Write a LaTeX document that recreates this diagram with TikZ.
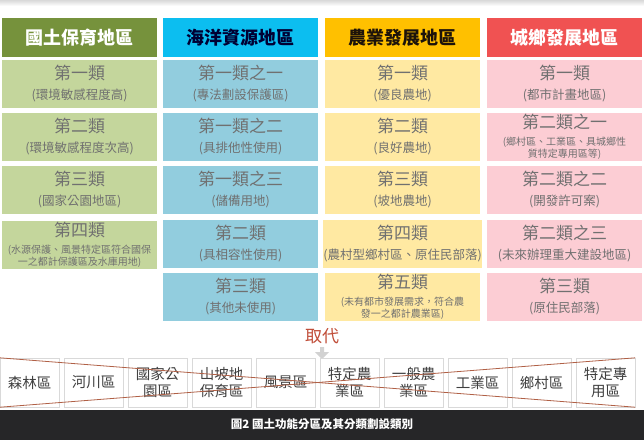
\documentclass[tikz,border=0pt]{standalone}
\usepackage{fontspec}
\setmainfont{Noto Sans CJK TC}
\usetikzlibrary{shapes.arrows}

\definecolor{headGreen}{RGB}{118,146,60}
\definecolor{cellGreen}{RGB}{196,214,156}
\definecolor{headBlue}{RGB}{12,190,240}
\definecolor{cellBlue}{RGB}{146,205,222}
\definecolor{headYellow}{RGB}{255,192,0}
\definecolor{cellYellow}{RGB}{255,233,162}
\definecolor{headRed}{RGB}{240,82,82}
\definecolor{cellRed}{RGB}{252,205,212}
\definecolor{cellText}{RGB}{112,112,112}
\definecolor{crossRed}{RGB}{176,96,70}
\definecolor{barDark}{RGB}{38,38,40}

\newcommand{\kind}[2]{{\fontsize{17}{20}\selectfont #1}\\{\fontsize{12.5}{20}\selectfont #2}}
\newcommand{\kindtwo}[3]{{\fontsize{17}{20}\selectfont #1}\\[-3pt]{\fontsize{10}{20}\selectfont #2}\\[-8pt]{\fontsize{10}{20}\selectfont #3}}

\begin{document}
\begin{tikzpicture}[x=1pt,y=-1pt,
    head/.style={minimum width=155,minimum height=39,inner sep=0,
      font=\bfseries\fontsize{18}{20}\selectfont},
    cell/.style={minimum width=155,minimum height=48,inner sep=0,
      align=center,text=cellText,font=\fontsize{12.5}{20}\selectfont},
    old zone/.style={draw=gray!30,fill=white,minimum width=59,minimum height=49,
      inner sep=0,align=center,text=black!75,font=\fontsize{14.5}{17}\selectfont},
    cross line/.style={crossRed,line width=0.8pt},]

    \useasboundingbox (0,0) rectangle (644,440);
    \shade[top color=gray!30,bottom color=white] (0,0) rectangle (644,6);

    % 國土保育地區
    \begin{scope}[xshift=2]

      \node[head,fill=headGreen,text=white] (g0) at (77.5,37.5) {國土保育地區};
      \node[cell,fill=cellGreen] (g1) at (77.5,84) {\kind{第一類}{(環境敏感程度高)}};
      \node[cell,fill=cellGreen] (g2) at (77.5,137) {\kind{第二類}{(環境敏感程度次高)}};
      \node[cell,fill=cellGreen] (g3) at (77.5,190) {\kind{第三類}{(國家公園地區)}};
      \node[cell,fill=cellGreen] (g4) at (77.5,245) {\kindtwo{第四類}{(水源保護、風景特定區符合國保}{一之都計保護區及水庫用地)}};

    \end{scope}

    % 海洋資源地區
    \begin{scope}[xshift=163]

      \node[head,fill=headBlue,text=black!80!blue] (b0) at (77.5,37.5) {海洋資源地區};
      \node[cell,fill=cellBlue] (b1) at (77.5,84) {\kind{第一類之一}{(專法劃設保護區)}};
      \node[cell,fill=cellBlue] (b2) at (77.5,137) {\kind{第一類之二}{(具排他性使用)}};
      \node[cell,fill=cellBlue] (b3) at (77.5,190) {\kind{第一類之三}{(儲備用地)}};
      \node[cell,fill=cellBlue] (b4) at (77.5,244) {\kind{第二類}{(具相容性使用)}};
      \node[cell,fill=cellBlue] (b5) at (77.5,297) {\kind{第三類}{(其他未使用)}};

    \end{scope}

    % 農業發展地區
    \begin{scope}[xshift=325]

      \node[head,fill=headYellow,text=black!85!brown] (y0) at (77.5,37.5) {農業發展地區};
      \node[cell,fill=cellYellow] (y1) at (77.5,84) {\kind{第一類}{(優良農地)}};
      \node[cell,fill=cellYellow] (y2) at (77.5,137) {\kind{第二類}{(良好農地)}};
      \node[cell,fill=cellYellow] (y3) at (77.5,190) {\kind{第三類}{(坡地農地)}};
      \node[cell,fill=cellYellow] (y4) at (77.5,244) {\kind{第四類}{(農村型鄉村區、原住民部落)}};
      \node[cell,fill=cellYellow] (y5) at (77.5,297) {\kindtwo{第五類}{(未有都市發展需求，符合農}{發一之都計農業區)}};

    \end{scope}

    % 城鄉發展地區
    \begin{scope}[xshift=487]

      \node[head,fill=headRed,text=white] (r0) at (77.5,37.5) {城鄉發展地區};
      \node[cell,fill=cellRed] (r1) at (77.5,84) {\kind{第一類}{(都市計畫地區)}};
      \node[cell,fill=cellRed] (r2) at (77.5,137) {\kindtwo{第二類之一}{(鄉村區、工業區、具城鄉性}{質特定專用區等)}};
      \node[cell,fill=cellRed] (r3) at (77.5,190) {\kind{第二類之二}{(開發許可案)}};
      \node[cell,fill=cellRed] (r4) at (77.5,244) {\kind{第二類之三}{(未來辦理重大建設地區)}};
      \node[cell,fill=cellRed] (r5) at (77.5,297) {\kind{第三類}{(原住民部落)}};

    \end{scope}

    % 取代
    \node[text=crossRed!80!red,font=\fontsize{17}{20}\selectfont] (swap) at (322,336) {取代};
    \node[single arrow,shape border rotate=270,fill=gray!35,minimum height=12,
      minimum width=14,single arrow head extend=3,inner sep=1] (down) at (322,352) {};

    \foreach \t [count=\i] in {森林區,河川區,國家公\\園區,山坡地\\保育區,風景區,
      特定農\\業區,一般農\\業區,工業區,鄉村區,特定專\\用區}
      \node[old zone] (z\i) at ({29.5+64*(\i-1)},382.5) {\t};

    \draw[cross line] (z1.north west) -- (z10.south east);
    \draw[cross line] (z1.south west) -- (z10.north east);

    \fill[barDark] (0,410) rectangle (644,440);
    \node[text=white,font=\bfseries\fontsize{11.5}{13}\selectfont] (caption) at (322,424)
      {圖2 國土功能分區及其分類劃設類別};

  \end{tikzpicture}
\end{document}
